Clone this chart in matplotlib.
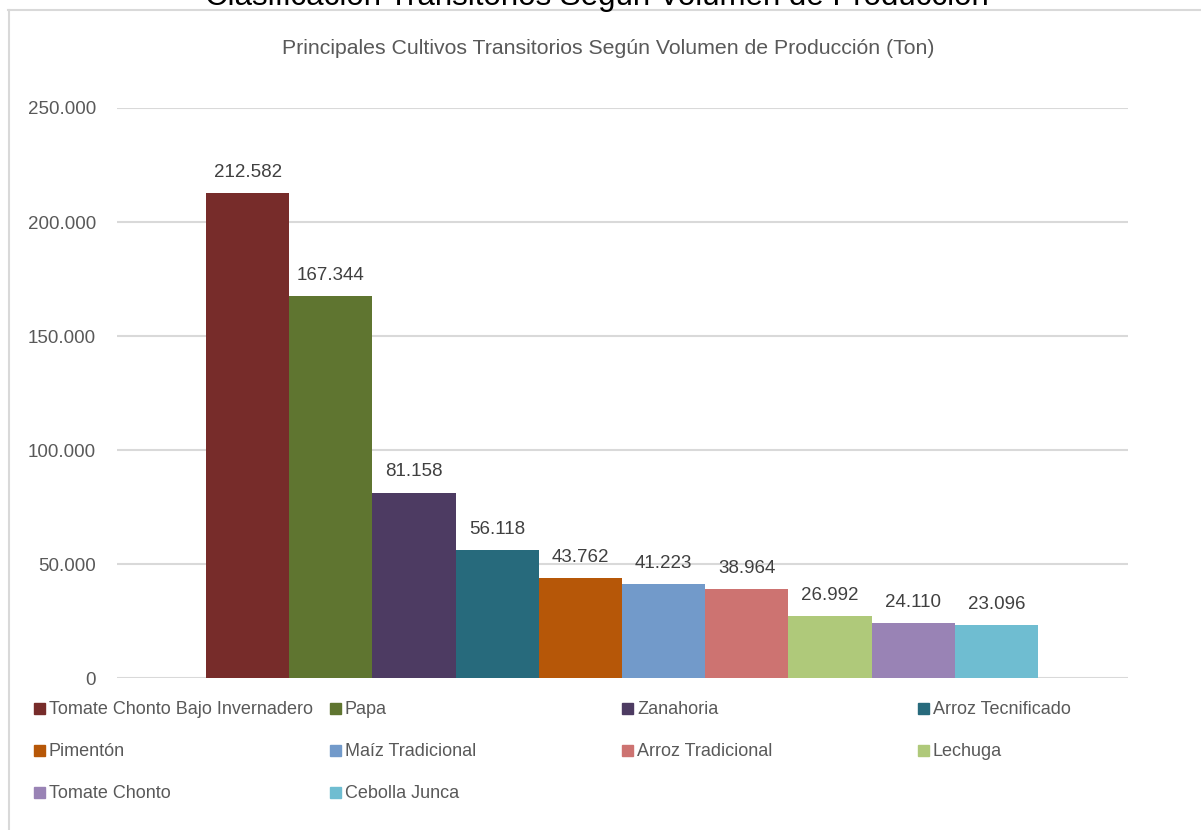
import matplotlib
matplotlib.use("Agg")
import matplotlib.pyplot as plt
from matplotlib import font_manager
from matplotlib.patches import Rectangle
from matplotlib.lines import Line2D

categories = ["Tomate Chonto Bajo Invernadero", "Papa", "Zanahoria", "Arroz Tecnificado",
              "Pimentón", "Maíz Tradicional", "Arroz Tradicional", "Lechuga",
              "Tomate Chonto", "Cebolla Junca"]
values = [212582, 167344, 81158, 56118, 43762, 41223, 38964, 26992, 24110, 23096]
labels = ["212.582", "167.344", "81.158", "56.118", "43.762", "41.223", "38.964",
          "26.992", "24.110", "23.096"]
colors = ["#772C2A", "#5F7530", "#4D3B62", "#276A7C", "#B65708", "#729ACA",
          "#CD7371", "#AFC97A", "#9983B5", "#6FBDD1"]
yticks = [0, 50000, 100000, 150000, 200000, 250000]
ytick_labels = ["0", "50.000", "100.000", "150.000", "200.000", "250.000"]

names = {f.name for f in font_manager.fontManager.ttflist}
fam = "Liberation Sans Narrow" if "Liberation Sans Narrow" in names else "Liberation Sans"
plt.rcParams["font.family"] = [fam, "DejaVu Sans"]

W, H = 1201, 830
fig = plt.figure(figsize=(W / 100, H / 100), dpi=100)
ax = fig.add_axes([117 / W, 1 - 678 / H, (1128 - 117) / W, (678 - 108) / H])

x = list(range(len(values)))
ax.bar(x, values, width=1.0, color=colors, zorder=3)
for xi, v, lab in zip(x, values, labels):
    ax.annotate(lab, (xi, v), xytext=(0, 9), textcoords="offset points",
                ha="center", va="bottom", fontsize=13.5, color="#404040")

unit = 832 / 10
ax.set_xlim(-0.5 - 89 / unit, 9.5 + 90 / unit)
ax.set_ylim(0, 250000)
ax.set_yticks(yticks)
ax.set_yticklabels(ytick_labels, fontsize=13.5, color="#595959")
ax.set_xticks([])
ax.tick_params(axis="y", length=0, pad=15)
ax.grid(axis="y", color="#D9D9D9", linewidth=1.5, zorder=0)
for s in ax.spines.values():
    s.set_visible(False)

fig.text(608 / W, 1 - 48 / H, "Principales Cultivos Transitorios Según Volumen de Producción (Ton)",
         ha="center", va="center", fontsize=15.3, color="#595959")
fig.text(597 / W, 1 - 5.5 / H, "Clasificación Transitorios Según Volumen de Producción",
         ha="center", va="baseline", fontsize=22.5, color="#000000")

# frame
fig.add_artist(Line2D([8 / W, 1200 / W], [1 - 10.5 / H, 1 - 10.5 / H], color="#D9D9D9", lw=1.5))
fig.add_artist(Line2D([8.5 / W, 8.5 / W], [0, 1 - 10.5 / H], color="#D9D9D9", lw=1.5))

# legend (row-major, 4 equal columns)
col_x = [34, 330, 622, 918]
row_y = [709, 751, 793]
for i, (name, c) in enumerate(zip(categories, colors)):
    r, cidx = divmod(i, 4)
    px, py = col_x[cidx], row_y[r]
    fig.add_artist(Rectangle((px / W, 1 - (py + 5) / H), 11 / W, 11 / H,
                             color=c, transform=fig.transFigure))
    fig.text((px + 15) / W, 1 - py / H, name, ha="left", va="center",
             fontsize=13, color="#595959")

fig.savefig("out.png", dpi=100)
